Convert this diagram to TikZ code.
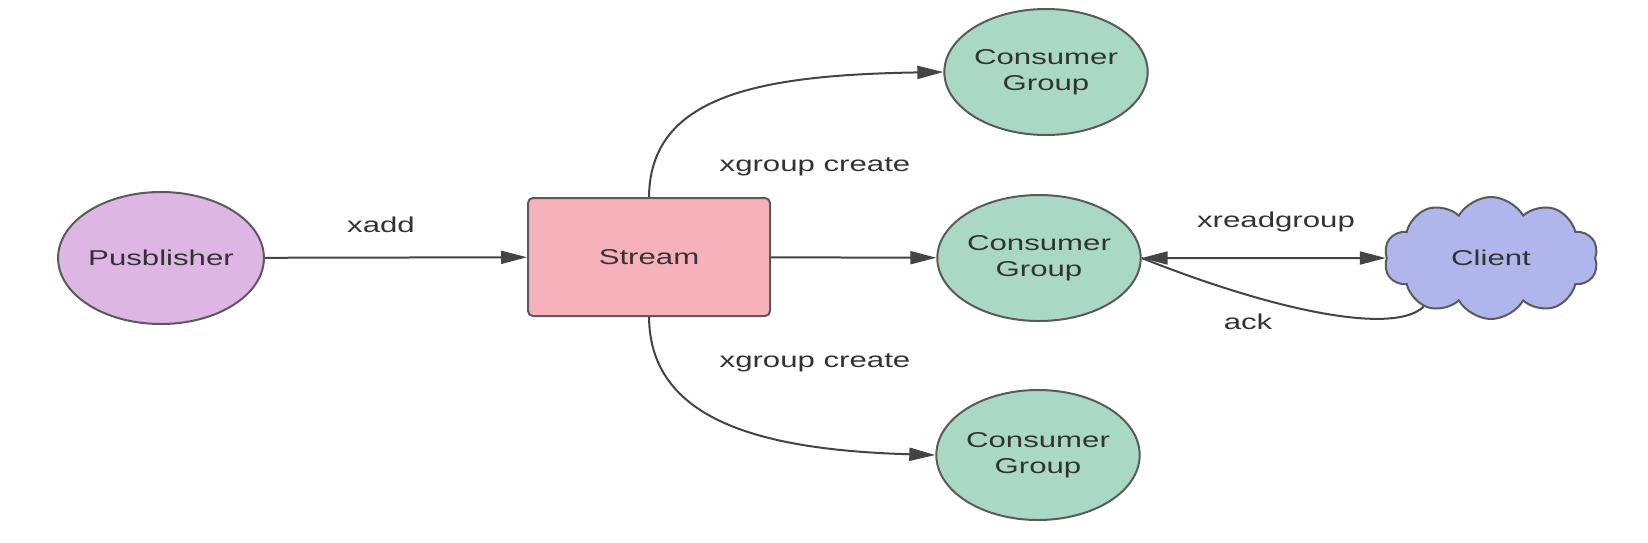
\documentclass[tikz,border=0pt]{standalone}
\usepackage{fontspec}
\setmainfont{Liberation Sans}
\usetikzlibrary{shapes.geometric,shapes.symbols,arrows.meta}
\newcommand{\wx}[1]{\scalebox{1.45}[1]{#1}}
\definecolor{pubfill}{HTML}{DDB6E4}
\definecolor{strfill}{HTML}{F6B1BB}
\definecolor{cgfill}{HTML}{A9D9C5}
\definecolor{clfill}{HTML}{AEB6EC}
\definecolor{edgecol}{HTML}{5A5A5A}
\definecolor{linecol}{HTML}{444444}
\definecolor{txtcol}{HTML}{333333}
\begin{document}
\begin{tikzpicture}[x=1pt,y=-1pt,
  every node/.style={font=\fontsize{21.5}{26}\selectfont, text=txtcol},
  ell/.style={ellipse, draw=edgecol, line width=2pt, inner sep=0pt, align=center},
  pubnode/.style={ell, fill=pubfill, minimum width=197pt, minimum height=132pt},
  cgnode/.style={ell, fill=cgfill, minimum width=202pt, minimum height=126pt},
  strnode/.style={rectangle, rounded corners=5pt, draw=edgecol, line width=2pt, fill=strfill, minimum width=242pt, minimum height=118pt},
  clnode/.style={cloud, cloud puffs=10, cloud puff arc=120, aspect=1.78, draw=edgecol, line width=2pt, fill=clfill, minimum width=214pt, minimum height=122pt, inner sep=0pt},
  conn/.style={draw=linecol, line width=2pt, -{Triangle[length=26pt,width=13pt]}},
  lbl/.style={inner sep=0pt}
]
\useasboundingbox (0,0) rectangle (1648,542);
\fill[white] (0,0) rectangle (1648,542);

\node[pubnode] (pub) at (161,258) {\wx{Pusblisher}};
\node[strnode] (stream) at (649,257) {\wx{Stream}};
\node[cgnode] (cg1) at (1046,72) {\wx{Consumer}\\\wx{Group}};
\node[cgnode] (cg2) at (1039,258) {\wx{Consumer}\\\wx{Group}};
\node[cgnode, minimum height=130pt] (cg3) at (1038,455) {\wx{Consumer}\\\wx{Group}};

\coordinate (ackstart) at (1425,305);
\draw[draw=linecol, line width=2pt] (ackstart) .. controls (1400,335) and (1285,315) .. (cg2.east);

\node[clnode] (client) at (1491,258) {\wx{Client}};

\draw[conn] (pub) -- (stream);
\draw[conn] (stream) -- (cg2);
\draw[conn] (stream.north) .. controls (650,95) and (760,75) .. (cg1.west);
\draw[conn] (stream.south) .. controls (650,420) and (760,450) .. (cg3.west);
\draw[conn, {Triangle[length=26pt,width=13pt]}-{Triangle[length=26pt,width=13pt]}] (cg2.east) -- (client.west);

\node[lbl] (lxadd) at (381,225) {\wx{xadd}};
\node[lbl] (lxg1) at (815,167) {\wx{xgroup create}};
\node[lbl] (lxg2) at (815,363) {\wx{xgroup create}};
\node[lbl] (lxrg) at (1276,222) {\wx{xreadgroup}};
\node[lbl] (lack) at (1248,322) {\wx{ack}};
\end{tikzpicture}
\end{document}
